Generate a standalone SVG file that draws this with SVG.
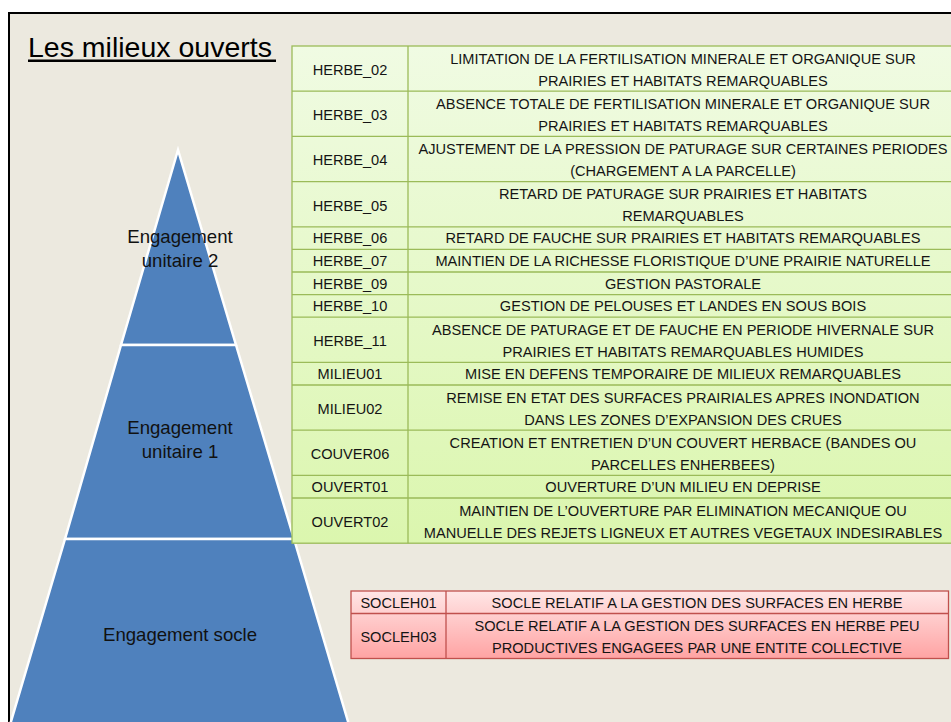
<svg xmlns="http://www.w3.org/2000/svg" width="951" height="722" viewBox="0 0 951 722">
<defs>
<linearGradient id="gGreen" x1="0" y1="0" x2="0" y2="1">
<stop offset="0" stop-color="#F0FBE3"/>
<stop offset="1" stop-color="#DBF6AE"/>
</linearGradient>
<linearGradient id="gRed" x1="0" y1="0" x2="0" y2="1">
<stop offset="0" stop-color="#FFE6E6"/>
<stop offset="1" stop-color="#FFA3A3"/>
</linearGradient>
</defs>
<style>
.t{font-family:"Liberation Sans",Arial,sans-serif;font-size:14.6px;fill:#141414;text-anchor:middle}
.p{font-family:"Liberation Sans",Arial,sans-serif;font-size:18.6px;fill:#111;text-anchor:middle}
.gl{stroke:#9BBB59;stroke-width:1.3;fill:none}
.rl{stroke:#C0504D;stroke-width:1.3;fill:none}
.tier{fill:#4F81BD;stroke:#FFFFFF;stroke-width:2.5;stroke-linejoin:miter}
</style>
<rect x="0" y="0" width="951" height="722" fill="#FFFFFF"/>
<rect x="9" y="13" width="950" height="720" fill="#ECE9DF" stroke="#000000" stroke-width="2"/>
<g id="title">
<text x="28" y="56.5" style="font-family:'Liberation Sans',Arial,sans-serif;font-size:28.5px;fill:#000">Les milieux ouverts</text>
<rect x="28" y="59.5" width="248" height="2.5" fill="#000"/>
</g>
<g id="pyramid">
<g id="tier-top"><polygon class="tier" points="178,150 121,345 236,345"/><text class="p" x="180" y="243">Engagement</text><text class="p" x="180" y="267">unitaire 2</text></g>
<g id="tier-mid"><polygon class="tier" points="121,345 236,345 294,539 65,539"/><text class="p" x="180" y="434">Engagement</text><text class="p" x="180" y="458">unitaire 1</text></g>
<g id="tier-base"><polygon class="tier" points="65,539 294,539 352,735 7,735"/><text class="p" x="180" y="641">Engagement socle</text></g>
</g>
<g id="table-mesures">
<rect x="292" y="46" width="666" height="497.2" fill="url(#gGreen)"/>
<g class="gl">
<rect x="292" y="46" width="666" height="497.2"/>
<line x1="408" y1="46" x2="408" y2="543.2"/>
<path d="M292 91.2H958M292 136.4H958M292 181.6H958M292 226.8H958M292 249.4H958M292 272H958M292 294.6H958M292 317.2H958M292 362.4H958M292 385H958M292 430.2H958M292 475.4H958M292 498H958"/>
</g>
<g id="r-herbe02"><text class="t" x="350" y="75">HERBE_02</text><text class="t" x="683" y="63.5">LIMITATION DE LA FERTILISATION MINERALE ET ORGANIQUE SUR</text><text class="t" x="683" y="85.5">PRAIRIES ET HABITATS REMARQUABLES</text></g>
<g id="r-herbe03"><text class="t" x="350" y="120.2">HERBE_03</text><text class="t" x="683" y="108.7">ABSENCE TOTALE DE FERTILISATION MINERALE ET ORGANIQUE SUR</text><text class="t" x="683" y="130.7">PRAIRIES ET HABITATS REMARQUABLES</text></g>
<g id="r-herbe04"><text class="t" x="350" y="165.4">HERBE_04</text><text class="t" x="683" y="153.9">AJUSTEMENT DE LA PRESSION DE PATURAGE SUR CERTAINES PERIODES</text><text class="t" x="683" y="175.9">(CHARGEMENT A LA PARCELLE)</text></g>
<g id="r-herbe05"><text class="t" x="350" y="210.6">HERBE_05</text><text class="t" x="683" y="199.1">RETARD DE PATURAGE SUR PRAIRIES ET HABITATS</text><text class="t" x="683" y="221.1">REMARQUABLES</text></g>
<g id="r-herbe06"><text class="t" x="350" y="243.3">HERBE_06</text><text class="t" x="683" y="243.3">RETARD DE FAUCHE SUR PRAIRIES ET HABITATS REMARQUABLES</text></g>
<g id="r-herbe07"><text class="t" x="350" y="265.9">HERBE_07</text><text class="t" x="683" y="265.9">MAINTIEN DE LA RICHESSE FLORISTIQUE D’UNE PRAIRIE NATURELLE</text></g>
<g id="r-herbe09"><text class="t" x="350" y="288.5">HERBE_09</text><text class="t" x="683" y="288.5">GESTION PASTORALE</text></g>
<g id="r-herbe10"><text class="t" x="350" y="311.1">HERBE_10</text><text class="t" x="683" y="311.1">GESTION DE PELOUSES ET LANDES EN SOUS BOIS</text></g>
<g id="r-herbe11"><text class="t" x="350" y="346.2">HERBE_11</text><text class="t" x="683" y="334.7">ABSENCE DE PATURAGE ET DE FAUCHE EN PERIODE HIVERNALE SUR</text><text class="t" x="683" y="356.7">PRAIRIES ET HABITATS REMARQUABLES HUMIDES</text></g>
<g id="r-milieu01"><text class="t" x="350" y="378.9">MILIEU01</text><text class="t" x="683" y="378.9">MISE EN DEFENS TEMPORAIRE DE MILIEUX REMARQUABLES</text></g>
<g id="r-milieu02"><text class="t" x="350" y="414">MILIEU02</text><text class="t" x="683" y="402.5">REMISE EN ETAT DES SURFACES PRAIRIALES APRES INONDATION</text><text class="t" x="683" y="424.5">DANS LES ZONES D’EXPANSION DES CRUES</text></g>
<g id="r-couver06"><text class="t" x="350" y="459.2">COUVER06</text><text class="t" x="683" y="447.7">CREATION ET ENTRETIEN D’UN COUVERT HERBACE (BANDES OU</text><text class="t" x="683" y="469.7">PARCELLES ENHERBEES)</text></g>
<g id="r-ouvert01"><text class="t" x="350" y="491.9">OUVERT01</text><text class="t" x="683" y="491.9">OUVERTURE D’UN MILIEU EN DEPRISE</text></g>
<g id="r-ouvert02"><text class="t" x="350" y="527">OUVERT02</text><text class="t" x="683" y="515.5">MAINTIEN DE L’OUVERTURE PAR ELIMINATION MECANIQUE OU</text><text class="t" x="683" y="537.5">MANUELLE DES REJETS LIGNEUX ET AUTRES VEGETAUX INDESIRABLES</text></g>
</g>
<g id="table-socle">
<rect x="351" y="591" width="597.5" height="67.5" fill="url(#gRed)"/>
<g class="rl">
<rect x="351" y="591" width="597.5" height="67.5"/>
<line x1="446" y1="591" x2="446" y2="658.5"/>
<line x1="351" y1="613.5" x2="948.5" y2="613.5"/>
</g>
<g id="r-socleh01"><text class="t" x="398.5" y="607.5">SOCLEH01</text><text class="t" x="697" y="607.5">SOCLE RELATIF A LA GESTION DES SURFACES EN HERBE</text></g>
<g id="r-socleh03"><text class="t" x="398.5" y="642">SOCLEH03</text><text class="t" x="697" y="630.5">SOCLE RELATIF A LA GESTION DES SURFACES EN HERBE PEU</text><text class="t" x="697" y="652.5">PRODUCTIVES ENGAGEES PAR UNE ENTITE COLLECTIVE</text></g>
</g>
<g id="connectors"/>
</svg>
